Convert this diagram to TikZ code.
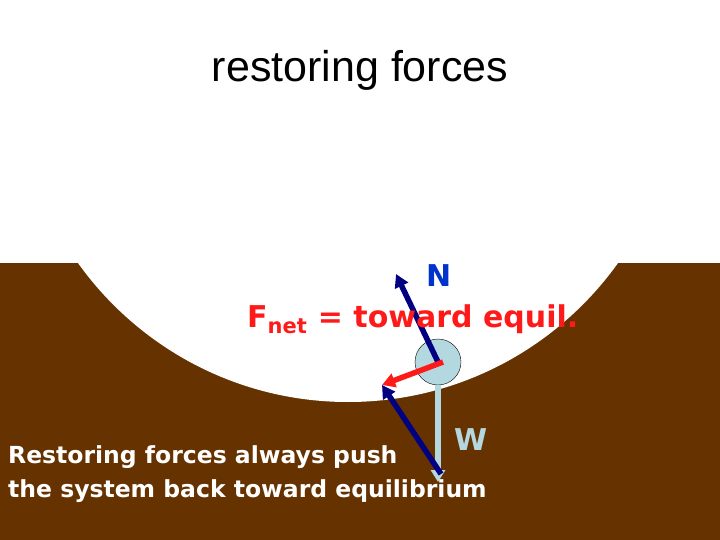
\documentclass[tikz,border=0pt]{standalone}
\usepackage{fontspec}
\setmainfont{Liberation Sans}
\newfontfamily\comic{DejaVu Sans}
\definecolor{soil}{HTML}{663300}
\definecolor{navy}{HTML}{000080}
\definecolor{ballblue}{HTML}{B4D8E0}
\definecolor{fred}{HTML}{FF1A1A}
\definecolor{nblue}{HTML}{0033CC}
\tikzset{
  force/.style={line width=5.5pt,-{Triangle[length=13pt,width=14pt]}},
  lbl/.style={font={\comic\bfseries\fontsize{30}{34}\selectfont},inner sep=0pt,anchor=base west}
}
\usetikzlibrary{arrows.meta}
\begin{document}
\begin{tikzpicture}[x=1pt,y=-1pt]
				\useasboundingbox (0,0) rectangle (720,540);
				\fill[white] (0,0) rectangle (720,540);
				\fill[soil] (0,263) rectangle (720,540);
				\begin{scope}
					\clip (0,263) rectangle (720,540);
					\fill[white] (348,70.3) circle[radius=331.7];
				\end{scope}

				\node[font={\fontsize{43}{48}\selectfont},anchor=base] (title) at (360,82) {restoring forces};

				\node[draw,fill=ballblue,circle,minimum size=46pt,inner sep=0pt] (ball) at (438,362) {};
				\coordinate (wend) at (438,482);
				\coordinate (ntip) at (396,274);
				\coordinate (ftip) at (382,385);
				\coordinate (wtip) at (441,474);

				\draw[force,navy] (ball.center) -- (ntip);
				\draw[ballblue,line width=5.5pt,-{Triangle[length=12pt,width=14pt]}] (ball.south) -- (wend);
				\draw[force,navy] (wtip) -- (ftip);
				\draw[force,fred] ([xshift=5pt]ball.center) -- (ftip);

				\node[lbl,text=nblue] (N) at (426,286) {N};
				\node[lbl,text=fred] (fnet) at (247,327) {F\textsubscript{net} = toward equil.};
				\node[lbl,text=ballblue] (W) at (454,450) {W};
				\node[lbl,text=white,font={\comic\bfseries\fontsize{23.5}{28}\selectfont}] (push) at (8,463) {Restoring forces always push};
				\node[lbl,text=white,font={\comic\bfseries\fontsize{23.5}{28}\selectfont}] (back) at (8,497) {the system back toward equilibrium};
\end{tikzpicture}
\end{document}
